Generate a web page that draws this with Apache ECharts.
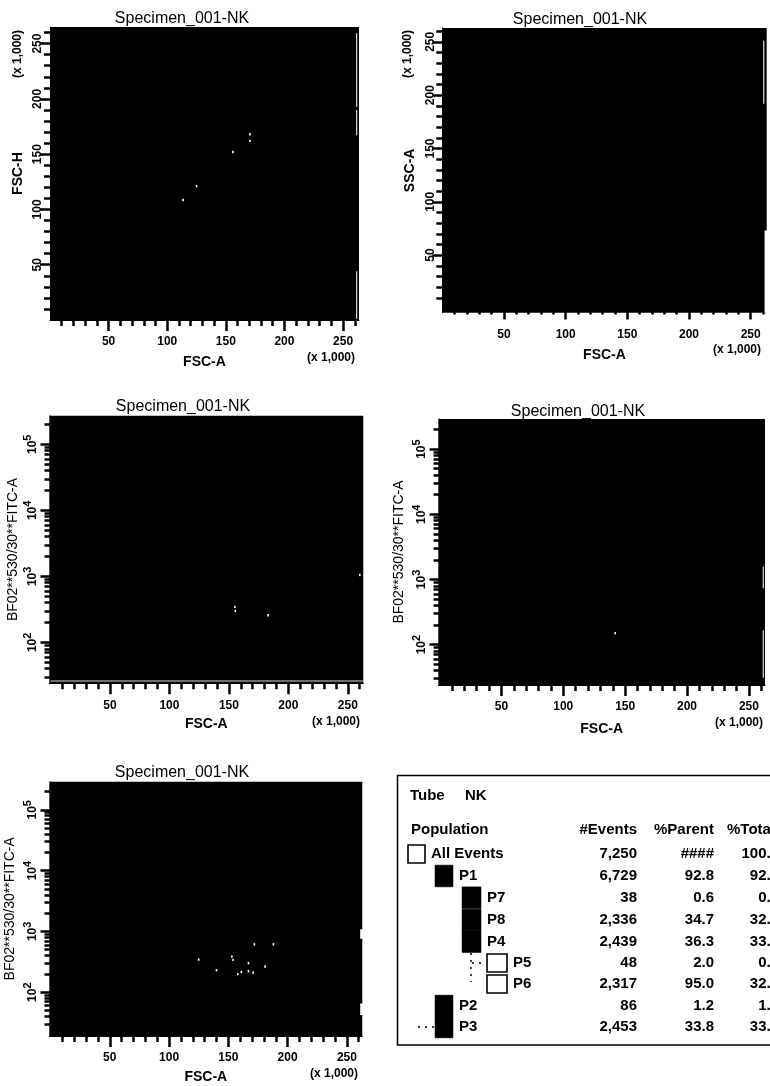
<!DOCTYPE html>
<html><head><meta charset="utf-8">
<style>html,body{margin:0;padding:0;background:#fff;overflow:hidden}#c{width:770px;height:1086px}</style>
<script src="https://cdn.jsdelivr.net/npm/echarts@6/dist/echarts.min.js"></script>
</head><body><div id="c"></div>
<script>
// ---- data ----
const titleText = 'Specimen_001-NK';
const xAxisName = 'FSC-A';
const scaleNote = '(x 1,000)';
const fitcName = 'BF02**530/30**FITC-A';
const linMajor = [50, 100, 150, 200, 250];
const linMinor = [10, 20, 30, 40, 60, 70, 80, 90, 110, 120, 130, 140, 160, 170, 180, 190, 210, 220, 230, 240, 260];
const logMajor = [100, 1000, 10000, 100000];
const logMinor = [30, 40, 50, 60, 70, 80, 90, 200, 300, 400, 500, 600, 700, 800, 900, 2000, 3000, 4000, 5000, 6000, 7000, 8000, 9000, 20000, 30000, 40000, 50000, 60000, 70000, 80000, 90000, 200000];

const specks1 = [[170.5, 168], [170.6, 162], [156, 152], [125, 121], [113.5, 108.5]];
const streaks1 = [[[261.6, 259.5], [261.6, 192.6]], [[261.6, 190], [261.6, 167]], [[261.6, 44], [261.6, 1]]];
const specks2 = [];
const streaks2 = [[[260.6, 251], [260.6, 192]], [[262.5, 73], [262.5, -4]]];
const specks3 = [[155, 345], [155.4, 300], [183, 257], [260, 1050]];
const streaks3 = [[[0, 26], [263, 26]]];
const specks4 = [[142, 150]];
const streaks4 = [[[261.6, 1560], [261.6, 730]], [[261.6, 165], [261.6, 31]]];
const specks5 = [[125, 344], [153, 384], [154, 340], [172, 612], [188, 612], [181, 265], [167, 221], [158, 198], [161, 215], [140, 229], [167, 300], [171, 210]];
const streaks5 = [[[262.5, 1085], [262.5, 753]], [[262.5, 65], [262.5, 42]]];

const tubeName = 'NK';
const tableHeads = ['#Events', '%Parent', '%Total'];
const popNames = ['All Events', 'P1', 'P7', 'P8', 'P4', 'P5', 'P6', 'P2', 'P3'];
const popEvents = ['7,250', '6,729', '38', '2,336', '2,439', '48', '2,317', '86', '2,453'];
const popParent = ['####', '92.8', '0.6', '34.7', '36.3', '2.0', '95.0', '1.2', '33.8'];
const popTotal = ['100.0', '92.8', '0.5', '32.2', '33.6', '0.7', '32.0', '1.2', '33.8'];
const popDepth = [0, 1, 2, 2, 2, 3, 3, 1, 1];
const popFilled = [false, true, true, true, true, false, false, true, true];

// ---- layout ----
const font = '"Liberation Sans", Arial, sans-serif';
const panels = [
  {box: [50, 27, 359, 320], xr: [0, 263.6], yr: [0, 265], log: false, yName: 'FSC-H', yGap: 25, xGap: 35, tc: [182, 19], note: [18, 54], xNote: [332, 358], specks: specks1, streaks: streaks1},
  {box: [442.3, 28, 766.7, 312.7], xr: [0, 263], yr: [-4, 263], log: false, yName: 'SSC-A', yGap: 25, xGap: 35, tc: [580, 20], note: [408, 54], xNote: [738, 350], specks: specks2, streaks: streaks2},
  {box: [49.3, 415.7, 363.3, 683.3], xr: [-1, 263], yr: [24, 271000], log: true, yName: fitcName, yGap: 29, xGap: 34, tc: [183, 407], xNote: [337, 722], specks: specks3, streaks: streaks3},
  {box: [438.3, 419, 765, 685], xr: [-1, 263], yr: [24, 290000], log: true, yName: fitcName, yGap: 32, xGap: 37, tc: [578, 412], xNote: [740, 723], specks: specks4, streaks: streaks4},
  {box: [49.3, 781.7, 362.3, 1036], xr: [-1, 263], yr: [19, 290000], log: true, yName: fitcName, yGap: 32, xGap: 34, tc: [182, 773], xNote: [335, 1074], specks: specks5, streaks: streaks5}
];

const grids = [], xAxes = [], yAxes = [], series = [], titles = [], graphics = [];
const labelStyle = {color: '#000', fontFamily: font, fontWeight: 'bold', fontSize: 12};
function exp10(v) { return Math.round(Math.log10(v)); }

panels.forEach((p, i) => {
  const [l, t, r, b] = p.box;
  grids.push({left: l, top: t, width: r - l, height: b - t, show: true, backgroundColor: '#000', borderWidth: 0, containLabel: false, outerBoundsMode: 'none'});
  const xMain = xAxes.length, yMain = yAxes.length;
  xAxes.push({
    type: 'value', gridIndex: i, min: p.xr[0], max: p.xr[1], position: 'bottom',
    name: xAxisName, nameLocation: 'middle', nameGap: p.xGap,
    nameTextStyle: {color: '#000', fontFamily: font, fontSize: 14, fontWeight: 'bold'},
    splitLine: {show: false},
    axisLine: {show: true, lineStyle: {color: '#000', width: 1}},
    axisTick: {show: true, length: 11, customValues: linMajor, lineStyle: {color: '#000', width: 2.5}},
    axisLabel: Object.assign({show: true, margin: 16, customValues: linMajor, hideOverlap: false}, labelStyle)
  });
  xAxes.push({
    type: 'value', gridIndex: i, min: p.xr[0], max: p.xr[1], position: 'bottom',
    splitLine: {show: false}, axisLine: {show: false},
    axisTick: {show: true, length: 6, customValues: linMinor, lineStyle: {color: '#000', width: 2.5}},
    axisLabel: {show: false}
  });
  yAxes.push({
    type: p.log ? 'log' : 'value', gridIndex: i, min: p.yr[0], max: p.yr[1], position: 'left',
    name: p.yName, nameLocation: 'middle', nameGap: p.yGap,
    nameTextStyle: {color: '#000', fontFamily: font, fontSize: 14, fontWeight: p.log ? 'normal' : 'bold'},
    splitLine: {show: false},
    axisLine: {show: true, lineStyle: {color: '#000', width: 1}},
    axisTick: {show: true, length: 10, customValues: p.log ? logMajor : linMajor, lineStyle: {color: '#000', width: 2.5}},
    axisLabel: Object.assign({
      show: true, margin: 6, rotate: 90, hideOverlap: false,
      customValues: p.log ? logMajor : linMajor,
      formatter: p.log ? (v => '{b|10}{s|' + exp10(v) + '}') : (v => String(v)),
      rich: {b: {fontSize: 12, fontWeight: 'bold', fontFamily: font, color: '#000'},
             s: {fontSize: 11, fontWeight: 'bold', fontFamily: font, color: '#000', verticalAlign: 'bottom', padding: [0, 0, 10, 0]}}
    }, labelStyle)
  });
  yAxes.push({
    type: p.log ? 'log' : 'value', gridIndex: i, min: p.yr[0], max: p.yr[1], position: 'left',
    splitLine: {show: false}, axisLine: {show: false},
    axisTick: {show: true, length: 6, customValues: p.log ? logMinor : linMinor, lineStyle: {color: '#000', width: 2.5}},
    axisLabel: {show: false}
  });
  series.push({
    type: 'scatter', xAxisIndex: xMain, yAxisIndex: yMain, data: p.specks,
    symbol: 'rect', symbolSize: [1.6, 2.4], itemStyle: {color: '#fff', opacity: 1}, silent: true, z: 5
  });
  p.streaks.forEach(seg => series.push({
    type: 'line', xAxisIndex: xMain, yAxisIndex: yMain, data: seg, symbol: 'none', silent: true, z: 4,
    lineStyle: {color: (seg[0][0] === 262.5) ? '#fff' : '#ddd', width: (seg[0][0] === 262.5) ? 3 : 1.2}, clip: false
  }));
  titles.push({
    text: titleText, left: p.tc[0], top: p.tc[1] - 8, z: 1, padding: 0,
    textAlign: 'center',
    textStyle: {color: '#000', fontFamily: font, fontSize: 16, fontWeight: 'normal'}
  });
  graphics.push({type: 'text', left: p.xNote[0] - 25, top: p.xNote[1] - 6, style: {text: scaleNote, fill: '#000', font: 'bold 12px ' + font}});
  if (p.note) graphics.push({type: 'text', x: p.note[0], y: p.note[1], rotation: Math.PI / 2,
    style: {text: scaleNote, fill: '#000', font: 'bold 12px ' + font, align: 'center', verticalAlign: 'middle'}});
});

// ---- population table ----
const rowY = [854, 876, 897.7, 920, 941.7, 963, 984, 1006, 1027];
const swatchX = [408, 435, 462, 487], swatchW = [17, 18, 19, 20], nameX = [431, 459, 487, 513];
const tableFont = 'bold 15px ' + font;
graphics.push({type: 'rect', shape: {x: 397.5, y: 775.5, width: 400, height: 269.5}, style: {fill: '#fff', stroke: '#000', lineWidth: 1.5}});
function tx(text, x, y, align) {
  graphics.push({type: 'text', x, y, z: 3, style: {text, x: 0, y: 0, fill: '#000', font: tableFont, align: align || 'left', verticalAlign: 'middle'}});
}
tx('Tube', 410, 796); tx(tubeName, 465, 796);
tx('Population', 411, 830);
tx(tableHeads[0], 637, 830, 'right'); tx(tableHeads[1], 714, 830, 'right'); tx(tableHeads[2], 727, 830);
// dotted tree connectors
[[471, 953, 471, 982], [472, 963, 486, 963], [418, 1027, 434, 1027]].forEach(s => graphics.push({
  type: 'line', z: 2, shape: {x1: s[0], y1: s[1], x2: s[2], y2: s[3]}, style: {stroke: '#000', lineWidth: 1.5, lineDash: [2, 5]}
}));
popNames.forEach((n, i) => {
  const d = popDepth[i], w = swatchW[d], y = rowY[i];
  const h = popFilled[i] ? 21.7 : 18;
  graphics.push({type: 'rect', z: 3, shape: {x: swatchX[d], y: y - h / 2, width: w, height: h},
    style: popFilled[i] ? {fill: '#000', stroke: '#000', lineWidth: 0.5} : {fill: '#fff', stroke: '#000', lineWidth: 1.6}});
  tx(n, nameX[d], y);
  tx(popEvents[i], 637, y, 'right');
  tx(popParent[i], 714, y, 'right');
  tx(popTotal[i], 779, y, 'right');
});

const chart = echarts.init(document.getElementById('c'), null, {renderer: 'canvas'});
chart.setOption({
  animation: false, backgroundColor: '#fff', tooltip: {show: false}, legend: {show: false},
  title: titles, grid: grids, xAxis: xAxes, yAxis: yAxes, series: series, graphic: graphics
});
</script></body></html>
